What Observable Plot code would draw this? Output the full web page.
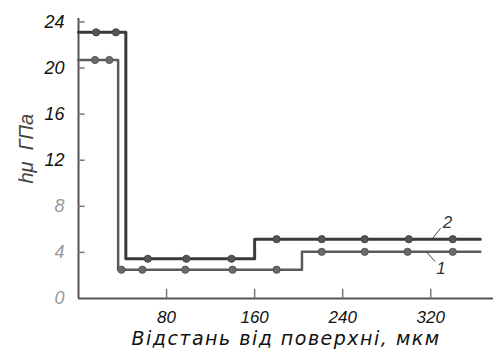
<!DOCTYPE html>
<html>
<head>
<meta charset="utf-8">
<script src="https://cdn.jsdelivr.net/npm/d3@7"></script>
<script src="https://cdn.jsdelivr.net/npm/@observablehq/plot@0.6"></script>
<style>
  html, body { margin: 0; padding: 0; background: #fff; }
  #chart { width: 499px; height: 358px; }
</style>
</head>
<body>
<div id="chart"></div>
<script>
// Step lines (step-after): x breakpoints and levels
const curve2X = [0, 43, 160, 365];
const curve2Y = [23.1, 3.45, 5.15, 5.15];
const curve1X = [0, 36, 203, 365];
const curve1Y = [20.7, 2.5, 4.05, 4.05];

// Measured points
const marks2X = [16, 34, 63, 98, 139, 180, 221, 260, 300, 340];
const marks2Y = [23.1, 23.1, 3.45, 3.45, 3.45, 5.15, 5.15, 5.15, 5.15, 5.15];
const marks1X = [15, 28, 39, 58, 97, 140, 180, 221, 260, 299, 340];
const marks1Y = [20.7, 20.7, 2.5, 2.5, 2.5, 2.5, 2.5, 4.05, 4.05, 4.05, 4.05];

// Ticks
const yTicks = [0, 4, 8, 12, 16, 20, 24];
const xTicks = [80, 160, 240, 320];

// Curve labels
const curveLabels = ["2", "1"];
const curveLabelX = [331, 325];
const curveLabelY = [6.6, 2.6];

const xTitle = "Відстань від поверхні, мкм";
const yTitle = "hμ  ГПа";

const zip = (xs, ys) => xs.map((x, i) => ({x, y: ys[i]}));
const c2 = zip(curve2X, curve2Y);
const c1 = zip(curve1X, curve1Y);
const m2 = zip(marks2X, marks2Y);
const m1 = zip(marks1X, marks1Y);
const lbl = curveLabels.map((t, i) => ({t, x: curveLabelX[i], y: curveLabelY[i]}));
const leaders = [
  {x1: 321, y1: 5.15, x2: 329, y2: 6.1},
  {x1: 316, y1: 4.05, x2: 324, y2: 3.2}
];

const font = "'Liberation Sans', 'DejaVu Sans', sans-serif";

const chart = Plot.plot({
  width: 499,
  height: 358,
  marginLeft: 78,
  marginRight: 6,
  marginTop: 18,
  marginBottom: 60,
  x: {domain: [0, 377], axis: null},
  y: {domain: [0, 24.3], axis: null},
  style: {fontFamily: font, background: "#fff"},
  marks: [
    // axes
    Plot.ruleX([0], {stroke: "#555", strokeWidth: 2}),
    Plot.ruleY([0], {stroke: "#555", strokeWidth: 2}),
    Plot.ruleY(yTicks.filter(d => d > 0), {y: d => d, x1: 0, x2: 6, stroke: "#777", strokeWidth: 1.5}),
    Plot.ruleX(xTicks, {x: d => d, y1: 0, y2: 0.8, stroke: "#777", strokeWidth: 1.5}),
    Plot.text(yTicks, {
      x: 0, y: d => d, text: d => String(d), dx: -14, textAnchor: "end",
      fontSize: 18, fontStyle: "italic",
      fill: d => d >= 12 ? "#111" : "#999"
    }),
    Plot.text(xTicks, {
      x: d => d, y: 0, text: d => String(d), dy: 19,
      fontSize: 17, fontStyle: "italic", fill: "#111"
    }),
    // lines
    Plot.line(c1, {x: "x", y: "y", curve: "step-after", stroke: "#5a5a5a", strokeWidth: 2.5}),
    Plot.line(c2, {x: "x", y: "y", curve: "step-after", stroke: "#3a3a3a", strokeWidth: 3}),
    Plot.dot(m1, {x: "x", y: "y", r: 3.6, fill: "#6a6a6a", stroke: "#555", strokeWidth: 1}),
    Plot.dot(m2, {x: "x", y: "y", r: 3.6, fill: "#555", stroke: "#444", strokeWidth: 1}),
    // curve labels
    Plot.link(leaders, {x1: "x1", y1: "y1", x2: "x2", y2: "y2", stroke: "#444", strokeWidth: 1}),
    Plot.text(lbl, {x: "x", y: "y", text: "t", fontSize: 17, fontStyle: "italic", fill: "#333", textAnchor: "start"}),
    // titles
    Plot.text([xTitle], {
      frameAnchor: "bottom", dy: 46, fontSize: 19, fontStyle: "italic", fill: "#111",
      fontFamily: "'DejaVu Sans', sans-serif"
    }),
    Plot.text([yTitle], {
      x: 0, y: () => 13, rotate: -90, dx: -52, fontSize: 20, fontStyle: "italic", fill: "#444"
    })
  ]
});
d3.select(chart).selectAll("text")
  .filter(function() { return this.textContent === xTitle; })
  .style("letter-spacing", "1.5px");
document.getElementById("chart").appendChild(chart);
</script>
</body>
</html>
